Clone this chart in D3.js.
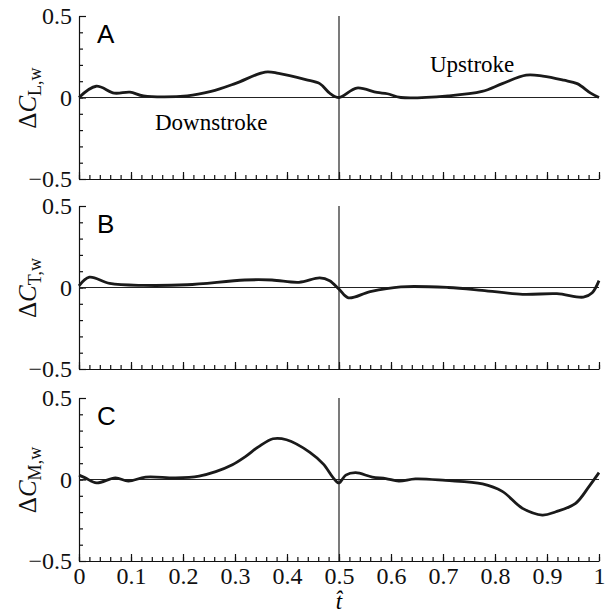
<!DOCTYPE html>
<html>
<head>
<meta charset="utf-8">
<script src="https://cdn.jsdelivr.net/npm/d3@7"></script>
<style>
  body { margin: 0; background: #fff; }
  svg { display: block; }
  .tick text { font-family: "Liberation Serif", "Times New Roman", serif; font-size: 24px; fill: #111; }
  .domain, .tick line { stroke: #111; stroke-width: 1.2; }
</style>
</head>
<body>
<div id="chart"></div>
<script>

// panel names and y axis subscripts
let panels = ["A", "B", "C"];
let subscripts = ["L,w", "T,w", "M,w"];

// t-hat values and ΔC values
let tA = [0, 0.033, 0.068, 0.098, 0.124, 0.208, 0.254, 0.30, 0.358, 0.384, 0.436, 0.463, 0.482, 0.5,
          0.534, 0.573, 0.593, 0.619, 0.71, 0.775, 0.814, 0.86, 0.892, 0.932, 0.958, 0.984, 1.0];
let cL = [0, 0.069, 0.027, 0.033, 0.010, 0.010, 0.037, 0.085, 0.156, 0.148, 0.110, 0.085, 0.027, 0,
          0.058, 0.031, 0.023, 0, 0.010, 0.037, 0.085, 0.137, 0.131, 0.106, 0.085, 0.027, 0];

let tB = [0, 0.02, 0.059, 0.124, 0.208, 0.319, 0.371, 0.423, 0.463, 0.482, 0.5, 0.518, 0.56, 0.619,
          0.71, 0.775, 0.853, 0.919, 0.97, 0.987, 1.0];
let cT = [0.01, 0.063, 0.025, 0.013, 0.017, 0.046, 0.046, 0.032, 0.059, 0.042, -0.01, -0.063, -0.025, 0.004,
          0, -0.017, -0.042, -0.038, -0.059, -0.032, 0.042];

let tC = [0, 0.012, 0.034, 0.07, 0.095, 0.128, 0.186, 0.231, 0.263, 0.295, 0.32, 0.345, 0.373, 0.399, 0.444,
          0.47, 0.489, 0.5, 0.513, 0.532, 0.564, 0.59, 0.615, 0.647, 0.705, 0.776, 0.814, 0.853, 0.891,
          0.917, 0.955, 0.981, 1.0];
let cM = [0.027, 0.01, -0.021, 0.01, -0.01, 0.015, 0.01, 0.021, 0.048, 0.09, 0.14, 0.2, 0.25, 0.244, 0.167,
          0.094, 0.01, -0.021, 0.027, 0.042, 0.015, 0.006, -0.01, 0.004, -0.006, -0.027, -0.073, -0.177, -0.218,
          -0.198, -0.146, -0.042, 0.042];

let xTicks = [0, 0.1, 0.2, 0.3, 0.4, 0.5, 0.6, 0.7, 0.8, 0.9, 1];
let yTicks = [-0.5, 0, 0.5];

let series = [
    {t: tA, c: cL},
    {t: tB, c: cT},
    {t: tC, c: cM}
];

let w = 607, h = 613;
let left = 79, plotW = 520, plotH = 163;
let tops = [16, 206, 398];

let svg = d3.select("#chart").append("svg")
    .attr("width", w)
    .attr("height", h);

let x = d3.scaleLinear().domain([0, 1]).range([0, plotW]);
let y = d3.scaleLinear().domain([-0.5, 0.5]).range([plotH, 0]);

let fmt = function(d) { return d === 0 ? "0" : (d < 0 ? "\u2212" + (-d) : "" + d); };

let line = d3.line()
    .x(function(d) { return x(d[0]); })
    .y(function(d) { return y(d[1]); })
    .curve(d3.curveCatmullRom.alpha(0.5));

panels.forEach(function(name, i) {
    let g = svg.append("g")
        .attr("transform", "translate(" + left + "," + tops[i] + ")");

    // minor y ticks every 0.1
    g.append("g")
        .call(d3.axisLeft(y).tickValues(d3.range(-4, 5).map(function(k) { return k / 10; }))
            .tickSize(-4).tickFormat(""))
        .select(".domain").remove();

    // major y ticks with labels
    g.append("g")
        .call(d3.axisLeft(y).tickValues(yTicks).tickSize(-7).tickSizeOuter(0)
            .tickPadding(7).tickFormat(fmt));

    // minor x ticks every 0.02
    g.append("g")
        .attr("transform", "translate(0," + plotH + ")")
        .call(d3.axisBottom(x).tickValues(d3.range(0, 51).map(function(k) { return k / 50; }))
            .tickSize(-4).tickFormat(""))
        .select(".domain").remove();

    // major x ticks, labelled only on the last panel
    g.append("g")
        .attr("transform", "translate(0," + plotH + ")")
        .call(d3.axisBottom(x).tickValues(xTicks).tickSize(-7).tickSizeOuter(0)
            .tickPadding(6).tickFormat(i === 2 ? d3.format("") : ""));

    // zero line
    g.append("line")
        .attr("x1", 0).attr("x2", plotW)
        .attr("y1", y(0)).attr("y2", y(0))
        .attr("stroke", "#222").attr("stroke-width", 1.2);

    // mid-stroke line at t = 0.5
    g.append("line")
        .attr("x1", x(0.5)).attr("x2", x(0.5))
        .attr("y1", y(0.5)).attr("y2", y(-0.5))
        .attr("stroke", "#222").attr("stroke-width", 1.2);

    let pts = series[i].t.map(function(t, k) { return [t, series[i].c[k]]; });
    g.append("path")
        .datum(pts)
        .attr("d", line)
        .attr("fill", "none")
        .attr("stroke", "#1a1a1a")
        .attr("stroke-width", 2.8)
        .attr("stroke-linejoin", "round");

    // panel letter
    g.append("text")
        .attr("x", 18).attr("y", 27)
        .style("font-family", "'Liberation Sans', Arial, sans-serif")
        .style("font-size", "26px")
        .text(name);

    // y axis label
    let lab = svg.append("text")
        .attr("transform", "translate(" + 36 + "," + (tops[i] + 82) + ") rotate(-90)")
        .attr("text-anchor", "middle")
        .style("font-family", "'Liberation Serif', 'Times New Roman', serif")
        .style("font-size", "25px")
        .style("fill", "#111");
    lab.append("tspan").text("\u0394");
    lab.append("tspan").style("font-style", "italic").text("C");
    lab.append("tspan").attr("dy", 5).style("font-size", "18px").text(subscripts[i]);
});

// stroke labels in panel A
svg.append("text")
    .attr("x", 155).attr("y", 130)
    .style("font-family", "'Liberation Serif', 'Times New Roman', serif")
    .style("font-size", "23px")
    .text("Downstroke");

svg.append("text")
    .attr("x", 430).attr("y", 72)
    .style("font-family", "'Liberation Serif', 'Times New Roman', serif")
    .style("font-size", "23px")
    .text("Upstroke");

// x axis label
svg.append("text")
    .attr("x", left + x(0.5)).attr("y", 609)
    .attr("text-anchor", "middle")
    .style("font-family", "'Liberation Serif', 'Times New Roman', serif")
    .style("font-size", "23px")
    .style("font-style", "italic")
    .text("t\u0302");

</script>
</body>
</html>
